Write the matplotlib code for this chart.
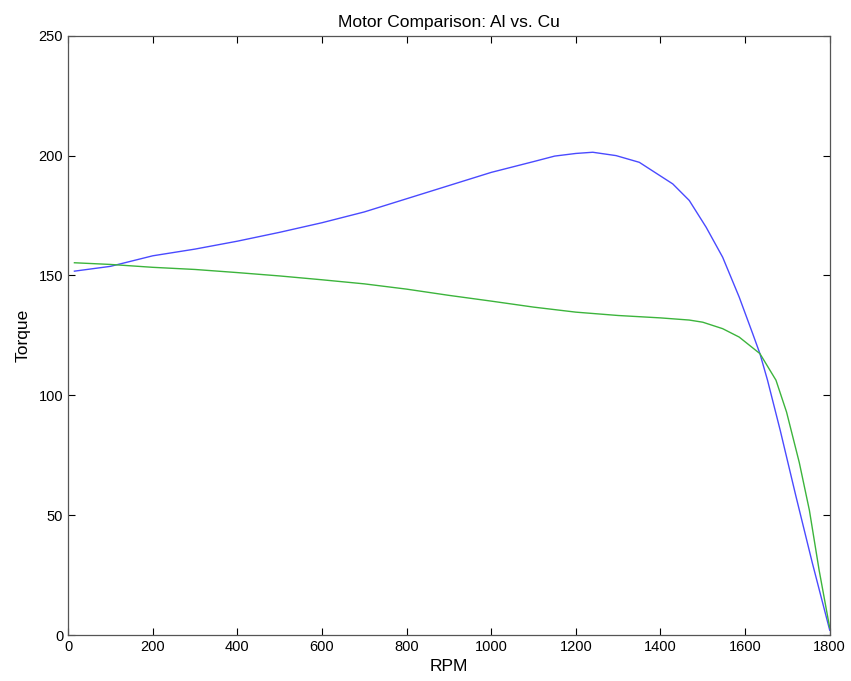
import matplotlib
matplotlib.use("Agg")
import matplotlib.pyplot as plt

# Torque vs RPM
rpm_al = [15, 100, 200, 300, 400, 500, 600, 700, 800, 900, 1000, 1100, 1150,
          1200, 1240, 1295, 1350, 1400, 1429, 1468, 1508, 1547, 1586, 1618,
          1635, 1653, 1683, 1720, 1759, 1800]
torque_al = [151.8, 153.8, 158.2, 161.0, 164.3, 168.0, 172.0, 176.5, 182.0,
             187.5, 193.0, 197.5, 199.8, 200.9, 201.4, 200.0, 197.2, 191.5,
             188.2, 181.3, 170.1, 157.6, 141.0, 125.7, 117.4, 106.3, 85.4,
             58.0, 30.0, 2.0]

rpm_cu = [15, 100, 200, 300, 400, 500, 600, 700, 800, 900, 1000, 1100, 1200,
          1300, 1350, 1400, 1468, 1500, 1547, 1586, 1635, 1673, 1698, 1728,
          1752, 1775, 1800]
torque_cu = [155.3, 154.6, 153.4, 152.5, 151.2, 149.8, 148.2, 146.5, 144.3,
             141.7, 139.3, 136.8, 134.7, 133.3, 132.8, 132.3, 131.4, 130.5,
             127.8, 124.3, 117.4, 106.3, 93.0, 72.0, 52.0, 27.0, 3.0]

plt.rcParams['font.family'] = ['Liberation Sans', 'DejaVu Sans']

fig = plt.figure(figsize=(8.51, 6.81), dpi=100)
ax = fig.add_axes([0.080, 0.0675, 0.895, 0.880])

ax.plot(rpm_al, torque_al, color='#4a4aff', lw=1.0)
ax.plot(rpm_cu, torque_cu, color='#3cb43c', lw=1.0)

ax.set_xlim(0, 1800)
ax.set_ylim(0, 250)
ax.set_xticks(range(0, 1801, 200))
ax.set_yticks(range(0, 251, 50))
ax.tick_params(direction='in', length=5, width=0.8, top=True, right=True,
               labelsize=10.5, colors='black')
for s in ax.spines.values():
    s.set_color('#555555')
    s.set_linewidth(0.9)

ax.set_title('Motor Comparison: Al vs. Cu', fontsize=12.5, pad=6)
ax.set_xlabel('RPM', fontsize=12.5, labelpad=4)
ax.set_ylabel('Torque', fontsize=12.5, labelpad=6)

fig.savefig('out.png', dpi=100)
